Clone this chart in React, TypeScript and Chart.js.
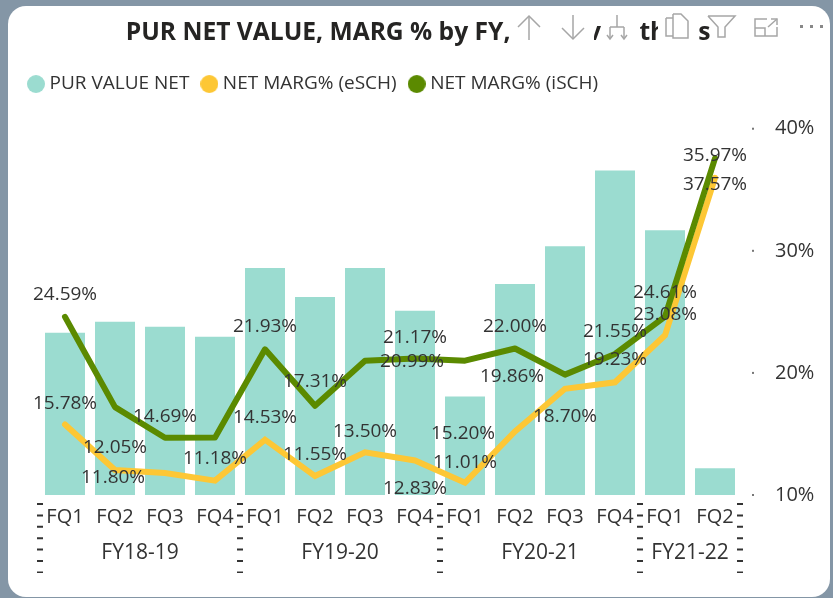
import React, { useEffect, useRef } from "react";
import { Chart, registerables } from "chart.js";

Chart.register(...registerables);

const quarters = ["FQ1","FQ2","FQ3","FQ4","FQ1","FQ2","FQ3","FQ4","FQ1","FQ2","FQ3","FQ4","FQ1","FQ2"];
const fiscalYears = ["FY18-19","FY19-20","FY20-21","FY21-22"];
const quartersPerYear = [4,4,4,2];
const purValueNet = [163,174,169,159,228,199,228,185,99,212,250,326,266,27];
const netMargESch = [15.78,12.05,11.80,11.18,14.53,11.55,13.50,12.83,11.01,15.20,18.70,19.23,23.08,35.97];
const netMargISch = [24.59,17.2,14.69,14.7,21.93,17.31,20.99,21.17,21.0,22.00,19.86,21.55,24.61,37.57];
const yTicks = [10,20,30,40];

// where each value label sits relative to its point, as [dx, dy]; null = label hidden by the visual
const eSchLabelPlace: [number,number][] = [[0,-21],[0,-22],[-52,5],[0,-22],[0,-22],[0,-21],[0,-21],[0,28],[0,-20],[-52,2],[0,28],[0,-23],[0,-21],[0,-22]];
const iSchLabelPlace: ([number,number]|null)[] = [[0,-22],null,[0,-21],null,[0,-23],[0,-24],[47,1],[0,-21],null,[0,-22],[-53,2],[0,-22],[0,-24],[0,26]];

const FONT = "'Open Sans', 'Noto Sans', sans-serif";
const TEXT = "#333333";
const ICON = "#a6a6a6";

function dot(color: string) {
  const c = document.createElement("canvas");
  c.width = 18;
  c.height = 18;
  const g = c.getContext("2d")!;
  g.fillStyle = color;
  g.beginPath();
  g.arc(9, 9, 9, 0, Math.PI * 2);
  g.fill();
  return c;
}

const decor = {
  id: "decor",
  afterDatasetsDraw(chart: any) {
    const { ctx, chartArea, scales } = chart;
    const xs = scales.x, yr = scales.y;
    ctx.save();
    // value labels
    ctx.font = `19px ${FONT}`;
    ctx.fillStyle = TEXT;
    ctx.textAlign = "center";
    ctx.textBaseline = "middle";
    const put = (vals: number[], place: ([number,number]|null)[]) => vals.forEach((v, i) => {
      const p = place[i];
      if (!p) return;
      ctx.fillText(v.toFixed(2) + "%", xs.getPixelForValue(i) + p[0], yr.getPixelForValue(v) + p[1]);
    });
    put(netMargESch, eSchLabelPlace);
    put(netMargISch, iSchLabelPlace);

    // value axis tick dots
    ctx.fillStyle = "#777";
    yTicks.forEach((t) => ctx.fillRect(chartArea.right + 12, yr.getPixelForValue(t) - 1, 2, 2));

    // fiscal year groups
    const step = (chartArea.right - chartArea.left) / quarters.length;
    let edge = chartArea.left;
    const sep = (x: number) => {
      ctx.strokeStyle = "#333";
      ctx.lineWidth = 6;
      ctx.setLineDash([2, 9.4]);
      ctx.beginPath();
      ctx.moveTo(x, chartArea.bottom + 8);
      ctx.lineTo(x, chartArea.bottom + 78);
      ctx.stroke();
      ctx.setLineDash([]);
    };
    sep(edge);
    ctx.font = `21px ${FONT}`;
    ctx.fillStyle = TEXT;
    fiscalYears.forEach((fy, i) => {
      const w = step * quartersPerYear[i];
      ctx.fillText(fy, edge + w / 2, chartArea.bottom + 58);
      edge += w;
      sep(edge);
    });
    ctx.restore();
    drawIcons(ctx);
  },
};

function drawIcons(ctx: CanvasRenderingContext2D) {
  ctx.save();
  // hover toolbar hides parts of the title
  ctx.fillStyle = "#fff";
  ctx.fillRect(580, 14, 14, 32);
  ctx.fillRect(658, 14, 10, 32);
  ctx.strokeStyle = ICON;
  ctx.lineWidth = 1.5;
  const line = (pts: number[][]) => {
    ctx.beginPath();
    pts.forEach((p, i) => (i ? ctx.lineTo(p[0], p[1]) : ctx.moveTo(p[0], p[1])));
    ctx.stroke();
  };
  // up
  line([[529,16],[529,40]]); line([[518,27],[529,16],[540,27]]);
  // down
  line([[573,15],[573,39]]); line([[562,28],[573,39],[584,28]]);
  // drill
  line([[617,15],[617,27]]); line([[610,27],[624,27]]); line([[610,27],[610,39]]); line([[624,27],[624,39]]);
  line([[607,35],[610,39],[613,35]]); line([[621,35],[624,39],[627,35]]);
  // copy
  line([[666,18],[666,36],[673,36]]);
  line([[666,18],[673,18]]);
  line([[673,14],[681,14],[688,21],[688,38],[673,38],[673,14]]);
  // filter
  line([[708,16],[735,16],[725,27],[725,37],[718,37],[718,27],[708,16]]);
  // expand
  line([[767,19],[755,19],[755,36],[777,36],[777,27]]);
  line([[755,28],[765,28],[765,36]]); line([[768,27],[777,19]]); line([[771,19],[777,19],[777,25]]);
  ctx.fillStyle = "#888";
  [800,810,820].forEach((x) => ctx.fillRect(x, 25, 3, 3));
  ctx.restore();
}

export default function App() {
  const ref = useRef<HTMLCanvasElement>(null);
  useEffect(() => {
    document.body.style.margin = "0";
    const chart = new Chart(ref.current!, {
      type: "bar",
      data: {
        labels: quarters,
        datasets: [
          { type: "line", label: "NET MARG% (iSCH)", data: netMargISch, yAxisID: "y", borderColor: "#5b8a00", backgroundColor: "#5b8a00", borderWidth: 6, pointRadius: 0, tension: 0, order: 1, borderJoinStyle: "round" as const, borderCapStyle: "round" as const },
          { type: "line", label: "NET MARG% (eSCH)", data: netMargESch, yAxisID: "y", borderColor: "#fdc735", backgroundColor: "#fdc735", borderWidth: 6, pointRadius: 0, tension: 0, order: 2, borderJoinStyle: "miter" as const, borderCapStyle: "round" as const },
          { type: "bar", label: "PUR VALUE NET", data: purValueNet, yAxisID: "y1", backgroundColor: "#9bdcd0", order: 3, categoryPercentage: 0.8, barPercentage: 1 },
        ],
      },
      options: {
        responsive: false,
        animation: false,
        layout: { padding: { left: 16, right: 0, top: 18, bottom: 0 } },
        plugins: {
          tooltip: { enabled: false },
          title: {
            display: true,
            text: "PUR NET VALUE, MARG % by FY,            v      th     s  ",
            color: "#252423",
            font: { family: FONT, size: 24.6, weight: "bold" },
            padding: { top: 0, bottom: 11 },
          },
          subtitle: {
            display: true,
            text: " ",
            weight: 500,
            font: { size: 1 },
            padding: { top: 0, bottom: 24 },
          },
          legend: {
            display: true,
            position: "top",
            align: "start",
            reverse: true,
            labels: {
              usePointStyle: true,
              pointStyleWidth: 8,
              boxHeight: 13,
              padding: 16,
              color: TEXT,
              font: { family: FONT, size: 19 },
              generateLabels: (c: any) =>
                Chart.defaults.plugins.legend.labels.generateLabels(c).map((l: any) => ({
                  ...l,
                  pointStyle: dot(l.fillStyle),
                })),
            },
          },
        },
        scales: {
          x: {
            grid: { display: false, drawTicks: false },
            border: { display: false },
            ticks: { color: TEXT, font: { family: FONT, size: 20 }, padding: 10, maxRotation: 0, autoSkip: false },
            afterFit: (s: any) => { s.height = 103; },
          },
          y: {
            position: "right",
            min: 10,
            max: 40,
            grid: { display: false, drawTicks: false },
            border: { display: false },
            afterBuildTicks: (s: any) => { s.ticks = yTicks.map((v) => ({ value: v })); },
            ticks: { color: TEXT, font: { family: FONT, size: 20 }, padding: 35, callback: (v: any) => v + "%" },
            afterFit: (s: any) => { s.width = 93; },
          },
          y1: {
            position: "left",
            min: 0,
            max: 368,
            grid: { display: false, drawTicks: false },
            border: { display: false },
            ticks: { display: false },
            afterFit: (s: any) => { s.width = 24; },
          },
        },
      },
      plugins: [decor],
    } as any);
    return () => chart.destroy();
  }, []);
  return (
    <div style={{ position: "fixed", inset: 0, background: "#8496a6", overflow: "hidden" }}>
      <div style={{ position: "absolute", left: 8, top: 6, width: 822, height: 591, background: "#fff", borderRadius: 18 }} />
      <canvas ref={ref} width={833} height={598} style={{ position: "absolute", left: 0, top: 0, display: "block" }} />
    </div>
  );
}
